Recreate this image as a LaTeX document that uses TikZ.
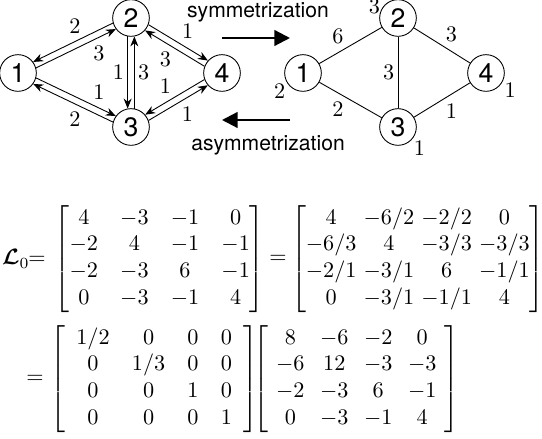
\documentclass[tikz,border=0pt]{standalone}
\usepackage{amsmath,amssymb,bm}
\usepackage{fontspec}
\usetikzlibrary{arrows.meta,positioning,calc}
\newfontfamily\hel{TeX Gyre Heros}

\begin{document}
\begin{tikzpicture}[x=0.45pt,y=0.45pt]
\tikzset{vtx/.style={draw,circle,thin,minimum size=16.5pt,inner sep=0pt,font=\hel\fontsize{12}{12}\selectfont},
  arc/.style={-{Stealth[length=4.5pt,width=3.6pt]},thin,shorten <=8.3pt,shorten >=8.3pt},
  lab/.style={auto,inner sep=1.5pt},
  wlab/.style={inner sep=0.5pt},
  big/.style={-{Triangle[length=7pt,width=7pt]},line width=1pt},
  captxt/.style={font=\hel\fontsize{9.5}{10}\selectfont}}
\useasboundingbox (0,0) rectangle (542,439);
\def\off{1.5pt}
% directed graph
\node[vtx] (n1) at (18,366) {1};
\node[vtx] (n2) at (131,421) {2};
\node[vtx] (n3) at (131,312) {3};
\node[vtx] (n4) at (222,366) {4};
\draw[arc] ($(n1)!\off!-90:(n2)$) -- node[lab,swap,pos=0.62]{3} ($(n2)!\off!90:(n1)$);
\draw[arc] ($(n2)!\off!-90:(n1)$) -- node[lab,swap,pos=0.4]{2} ($(n1)!\off!90:(n2)$);
\draw[arc] ($(n1)!\off!90:(n3)$) -- node[lab,pos=0.62]{1} ($(n3)!\off!-90:(n1)$);
\draw[arc] ($(n3)!\off!90:(n1)$) -- node[lab,pos=0.4]{2} ($(n1)!\off!-90:(n3)$);
\draw[arc] ($(n2)!\off!-90:(n3)$) -- node[lab,swap]{1} ($(n3)!\off!90:(n2)$);
\draw[arc] ($(n3)!\off!-90:(n2)$) -- node[lab,swap]{3} ($(n2)!\off!90:(n3)$);
\draw[arc] ($(n2)!\off!90:(n4)$) -- node[lab]{1} ($(n4)!\off!-90:(n2)$);
\draw[arc] ($(n4)!\off!90:(n2)$) -- node[lab]{3} ($(n2)!\off!-90:(n4)$);
\draw[arc] ($(n4)!\off!-90:(n3)$) -- node[lab,swap]{1} ($(n3)!\off!90:(n4)$);
\draw[arc] ($(n3)!\off!-90:(n4)$) -- node[lab,swap]{1} ($(n4)!\off!90:(n3)$);
% symmetric graph
\node[vtx,label={[wlab,label distance=0pt]210:2}] (m1) at (303,366) {1};
\node[vtx,label={[wlab,label distance=-1pt]172:3}] (m2) at (398,421) {2};
\node[vtx,label={[wlab,label distance=0pt]-40:1}] (m3) at (398,312) {3};
\node[vtx,label={[wlab,label distance=0pt]-25:1}] (m4) at (486,366) {4};
\draw[thin] (m1) -- node[lab,pos=0.45]{6} (m2);
\draw[thin] (m1) -- node[lab,swap,pos=0.45]{2} (m3);
\draw[thin] (m2) -- node[lab,swap]{3} (m3);
\draw[thin] (m2) -- node[lab]{3} (m4);
\draw[thin] (m3) -- node[lab,swap]{1} (m4);
% the two conversions
\coordinate (sa) at (222,401);
\coordinate (sb) at (290,401);
\coordinate (aa) at (290,319);
\coordinate (ab) at (222,319);
\draw[big] (sa) -- (sb);
\draw[big] (aa) -- (ab);
\node[captxt] (sym) at (258,427) {symmetrization};
\node[captxt] (asym) at (268,294) {asymmetrization};
% matrices
\node (lhs) at (24,180) {$\bm{\mathcal{L}}_0\!\!=$};
\node[right=-3pt of lhs] (ma) {$\begin{bmatrix} 4 & -3 & -1 & 0\\ -2 & 4 & -1 & -1\\ -2 & -3 & 6 & -1\\ 0 & -3 & -1 & 4\end{bmatrix}$};
\node[right=-5pt of ma] (eqa) {$=$};
\node[right=-5pt of eqa] (mb) {$\arraycolsep=1.6pt\begin{bmatrix} 4 & -6/2 & -2/2 & 0\\ -6/3 & 4 & -3/3 & -3/3\\ -2/1 & -3/1 & 6 & -1/1\\ 0 & -3/1 & -1/1 & 4\end{bmatrix}$};
\node (eqb) at (35,60) {$=$};
\node[right=-4pt of eqb] (mc) {$\left[\begin{array}{cccc} 1/2 & 0 & 0 & 0\\ 0 & 1/3 & 0 & 0\\ 0 & 0 & 1 & 0\\ 0 & 0 & 0 & 1\end{array}\right]$};
\node[right=-9pt of mc] (md) {$\arraycolsep=3.5pt\left[\begin{array}{cccc} 8 & -6 & -2 & 0\\ -6 & 12 & -3 & -3\\ -2 & -3 & 6 & -1\\ 0 & -3 & -1 & 4\end{array}\right]$};
\end{tikzpicture}
\end{document}
